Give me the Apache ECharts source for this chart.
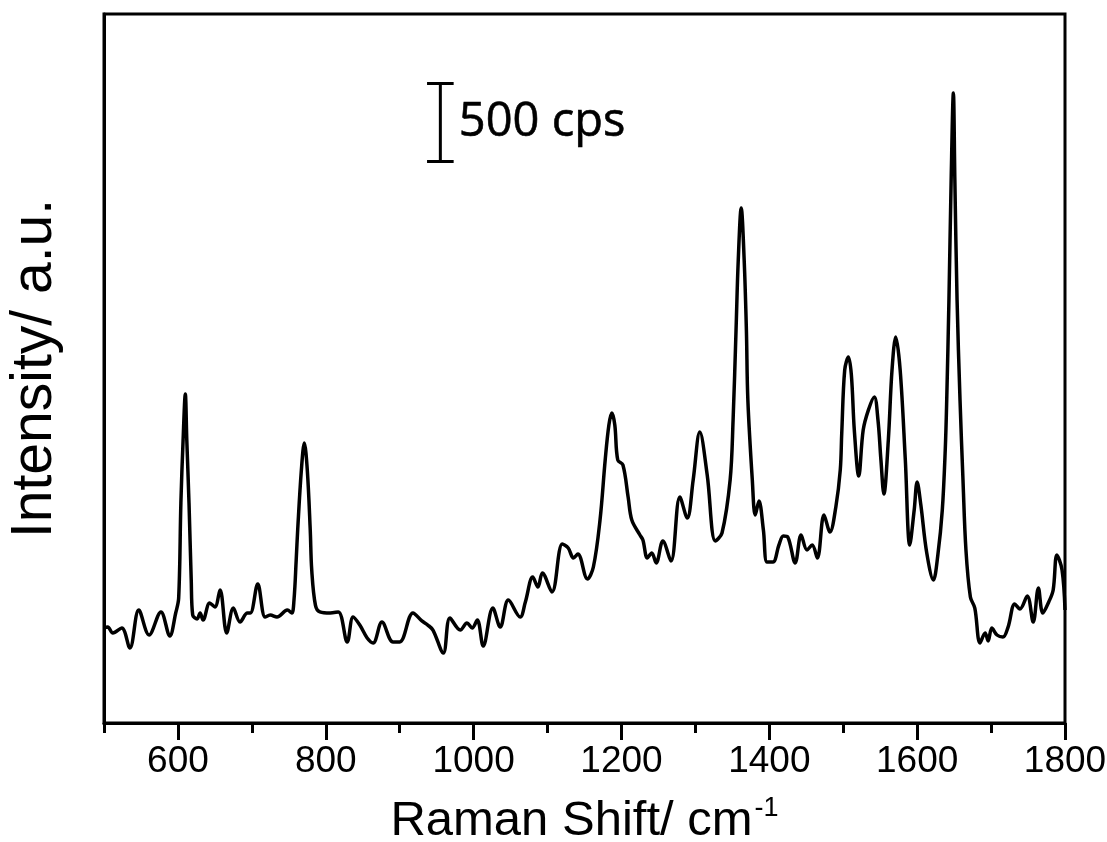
<!DOCTYPE html>
<html>
<head>
<meta charset="utf-8">
<script src="https://cdn.jsdelivr.net/npm/echarts@6/dist/echarts.min.js"></script>
<style>html,body{margin:0;padding:0;background:#fff}#c{width:1107px;height:842px}</style>
</head>
<body>
<div id="c"></div>
<script>
const wavenumber = [500,505,512,524,535,547,561,577,589,597,601,604,607,610,612,615,618,620,626,630,634,643,650,657,666,675,684,694,698,708,718,725,734,748,754,757,760,762,767,771,775,779,781,786,792,806,817,829,837,846,856,864,876,891,900,918,930,938,945,959,968,982,991,998,1005,1013,1026,1036,1047,1063,1070,1080,1087,1093,1106,1120,1128,1135,1141,1154,1162,1171,1178,1183,1187,1191,1195,1202,1209,1214,1225,1229,1235,1241,1247,1256,1267,1279,1289,1297,1306,1316,1327,1336,1347,1351,1355,1358,1362,1366,1369,1371,1377,1381,1386,1392,1397,1405,1413,1419,1425,1435,1443,1451,1458,1465,1474,1482,1490,1496,1498,1502,1507,1511,1515,1521,1527,1534,1542,1547,1551,1555,1561,1566,1571,1577,1584,1590,1596,1600,1605,1613,1622,1628,1634,1638,1640,1643,1646,1649,1651,1654,1658,1662,1666,1672,1678,1685,1692,1696,1701,1708,1716,1723,1732,1739,1749,1757,1764,1770,1778,1784,1789,1796,1800];
const intensity = [609,615,577,609,481,724,564,712,558,705,800,1410,1814,2109,1814,1410,917,692,667,705,660,769,744,853,577,737,647,705,705,891,679,692,679,724,705,788,1045,1237,1622,1795,1622,1237,981,756,712,705,712,519,679,628,545,513,647,519,519,705,654,628,596,449,673,596,641,609,660,494,737,615,788,679,776,936,872,962,840,1147,1122,1058,1083,923,1000,1301,1686,1910,1987,1910,1686,1654,1449,1301,1205,1173,1058,1090,1026,1167,1038,1449,1314,1558,1865,1590,1167,1218,1558,1942,2519,2968,3301,2968,2519,2070,1558,1333,1423,1237,1032,1032,1141,1199,1192,1026,1205,1109,1141,1058,1333,1224,1385,1622,1859,2263,2346,2231,1878,1583,1878,2006,2090,1942,1686,1468,1814,2263,2474,2263,1686,1141,1365,1545,1397,1090,917,1077,1365,1750,2070,2711,3481,4038,3481,2711,2070,1558,1109,808,737,513,577,526,609,564,551,615,763,731,814,647,865,705,776,853,1077,981,724];
const majorTicks = [600,800,1000,1200,1400,1600,1800];
const minorTicks = [500,700,900,1100,1300,1500,1700];
const scaleBarX = 955;
const scaleBarLow = 3600;
const scaleBarHigh = 4100;
const scaleBarCap = 18;
const scaleBarText = '500 cps';
const xTitle = 'Raman Shift/ cm';
const xTitleSup = '-1';
const yTitle = 'Intensity/ a.u.';

const spectrum = wavenumber.map((x, i) => [x, intensity[i]]);
const bar = [
  [scaleBarX - scaleBarCap, scaleBarHigh], [scaleBarX + scaleBarCap, scaleBarHigh], '-',
  [scaleBarX, scaleBarHigh], [scaleBarX, scaleBarLow], '-',
  [scaleBarX - scaleBarCap, scaleBarLow], [scaleBarX + scaleBarCap, scaleBarLow]
];

const chart = echarts.init(document.getElementById('c'), null, {renderer: 'canvas'});
const axisFont = 'Liberation Sans, Arial, sans-serif';
chart.setOption({
  animation: false,
  backgroundColor: '#fff',
  grid: {left: 104, right: 42, top: 14, bottom: 119, outerBoundsMode: 'none', containLabel: false,
         show: true, borderColor: '#000', borderWidth: 3, backgroundColor: 'transparent'},
  xAxis: [{
    type: 'value', min: 500, max: 1800,
    axisLine: {show: true, lineStyle: {color: '#000', width: 3}},
    axisTick: {show: true, inside: false, length: 17, customValues: majorTicks, lineStyle: {color: '#000', width: 3}},
    axisLabel: {show: true, customValues: majorTicks, formatter: v => String(v), color: '#000', fontSize: 37, fontFamily: axisFont, margin: 20},
    splitLine: {show: false},
    name: xTitle + '{sup|' + xTitleSup + '}',
    nameLocation: 'middle', nameGap: 72,
    nameTextStyle: {color: '#000', fontSize: 49, fontFamily: axisFont, rich: {sup: {fontSize: 27, fontFamily: axisFont, color: '#000', padding: [0, 0, 26, 2]}}}
  }, {
    type: 'value', min: 500, max: 1800, position: 'bottom',
    axisLine: {show: false},
    axisTick: {show: true, length: 10, customValues: minorTicks, lineStyle: {color: '#000', width: 3}},
    axisLabel: {show: false},
    splitLine: {show: false}
  }],
  yAxis: {
    type: 'value', min: 0, max: 4545,
    axisLine: {show: true, lineStyle: {color: '#000', width: 3}},
    axisTick: {show: false}, axisLabel: {show: false}, splitLine: {show: false},
    name: yTitle, nameLocation: 'middle', nameGap: 40, nameRotate: 90,
    nameTextStyle: {color: '#000', fontSize: 57, fontFamily: axisFont}
  },
  series: [{
    type: 'line', data: spectrum, xAxisIndex: 0, showSymbol: false, smooth: 0.35,
    lineStyle: {color: '#000', width: 3.5}, silent: true
  }, {
    type: 'line', data: bar, xAxisIndex: 0, showSymbol: false, connectNulls: false,
    lineStyle: {color: '#000', width: 3}, silent: true
  }, {
    type: 'scatter', xAxisIndex: 0, symbolSize: 0,
    data: [[scaleBarX + scaleBarCap + 7, (scaleBarLow + scaleBarHigh) / 2]],
    itemStyle: {color: '#000', opacity: 1},
    label: {show: true, position: 'right', distance: 0, formatter: scaleBarText, color: '#000', opacity: 1,
            textBorderColor: '#000', textBorderWidth: 0.6, fontSize: 47, fontFamily: 'Open Sans, sans-serif'},
    silent: true
  }]
});
</script>
</body>
</html>
